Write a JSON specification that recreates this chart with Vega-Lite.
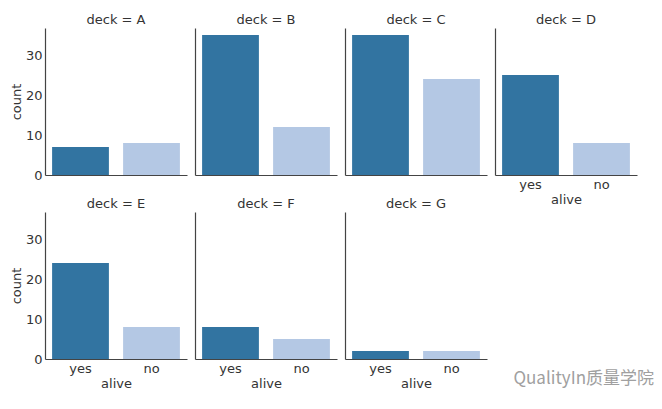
{
  "$schema": "https://vega.github.io/schema/vega-lite/v6.json",
  "background": "white",
  "padding": {"left": 10, "top": 14, "right": 5, "bottom": 5},
  "data": {
    "values": [
      {"deck": "A", "alive": "yes", "count": 7},
      {"deck": "A", "alive": "no", "count": 8},
      {"deck": "B", "alive": "yes", "count": 35},
      {"deck": "B", "alive": "no", "count": 12},
      {"deck": "C", "alive": "yes", "count": 35},
      {"deck": "C", "alive": "no", "count": 24},
      {"deck": "D", "alive": "yes", "count": 25},
      {"deck": "D", "alive": "no", "count": 8},
      {"deck": "E", "alive": "yes", "count": 24},
      {"deck": "E", "alive": "no", "count": 8},
      {"deck": "F", "alive": "yes", "count": 8},
      {"deck": "F", "alive": "no", "count": 5},
      {"deck": "G", "alive": "yes", "count": 2},
      {"deck": "G", "alive": "no", "count": 2}
    ]
  },
  "columns": 4,
  "spacing": {"row": 37, "column": 8},
  "bounds": "flush",
  "title": {
    "text": "QualityIn质量学院",
    "orient": "bottom",
    "anchor": "end",
    "font": "Noto Sans CJK SC",
    "fontSize": 17,
    "fontWeight": "normal",
    "color": "#a0a0a0",
    "offset": -19,
    "dx": 17
  },
  "concat": [
    {
      "width": 142, "height": 147,
      "title": "deck = A",
      "transform": [{"filter": "datum.deck == 'A'"}],
      "mark": "bar",
      "encoding": {
        "x": {"field": "alive", "type": "nominal", "sort": ["yes", "no"], "scale": {"paddingInner": 0.2, "paddingOuter": 0.1}, "axis": {"labels": false, "title": null}},
        "y": {"field": "count", "type": "quantitative", "scale": {"domain": [0, 36.75], "nice": false}, "axis": {"values": [0, 10, 20, 30], "title": "count"}},
        "color": {"field": "alive", "type": "nominal", "scale": {"domain": ["yes", "no"], "range": ["#3274a1", "#b4c8e4"]}, "legend": null}
      }
    },
    {
      "width": 142, "height": 147,
      "title": "deck = B",
      "transform": [{"filter": "datum.deck == 'B'"}],
      "mark": "bar",
      "encoding": {
        "x": {"field": "alive", "type": "nominal", "sort": ["yes", "no"], "scale": {"paddingInner": 0.2, "paddingOuter": 0.1}, "axis": {"labels": false, "title": null}},
        "y": {"field": "count", "type": "quantitative", "scale": {"domain": [0, 36.75], "nice": false}, "axis": {"labels": false, "title": null}},
        "color": {"field": "alive", "type": "nominal", "scale": {"domain": ["yes", "no"], "range": ["#3274a1", "#b4c8e4"]}, "legend": null}
      }
    },
    {
      "width": 142, "height": 147,
      "title": "deck = C",
      "transform": [{"filter": "datum.deck == 'C'"}],
      "mark": "bar",
      "encoding": {
        "x": {"field": "alive", "type": "nominal", "sort": ["yes", "no"], "scale": {"paddingInner": 0.2, "paddingOuter": 0.1}, "axis": {"labels": false, "title": null}},
        "y": {"field": "count", "type": "quantitative", "scale": {"domain": [0, 36.75], "nice": false}, "axis": {"labels": false, "title": null}},
        "color": {"field": "alive", "type": "nominal", "scale": {"domain": ["yes", "no"], "range": ["#3274a1", "#b4c8e4"]}, "legend": null}
      }
    },
    {
      "width": 142, "height": 147,
      "title": "deck = D",
      "transform": [{"filter": "datum.deck == 'D'"}],
      "mark": "bar",
      "encoding": {
        "x": {"field": "alive", "type": "nominal", "sort": ["yes", "no"], "scale": {"paddingInner": 0.2, "paddingOuter": 0.1}, "axis": {"title": "alive"}},
        "y": {"field": "count", "type": "quantitative", "scale": {"domain": [0, 36.75], "nice": false}, "axis": {"labels": false, "title": null}},
        "color": {"field": "alive", "type": "nominal", "scale": {"domain": ["yes", "no"], "range": ["#3274a1", "#b4c8e4"]}, "legend": null}
      }
    },
    {
      "width": 142, "height": 147,
      "title": "deck = E",
      "transform": [{"filter": "datum.deck == 'E'"}],
      "mark": "bar",
      "encoding": {
        "x": {"field": "alive", "type": "nominal", "sort": ["yes", "no"], "scale": {"paddingInner": 0.2, "paddingOuter": 0.1}, "axis": {"title": "alive"}},
        "y": {"field": "count", "type": "quantitative", "scale": {"domain": [0, 36.75], "nice": false}, "axis": {"values": [0, 10, 20, 30], "title": "count"}},
        "color": {"field": "alive", "type": "nominal", "scale": {"domain": ["yes", "no"], "range": ["#3274a1", "#b4c8e4"]}, "legend": null}
      }
    },
    {
      "width": 142, "height": 147,
      "title": "deck = F",
      "transform": [{"filter": "datum.deck == 'F'"}],
      "mark": "bar",
      "encoding": {
        "x": {"field": "alive", "type": "nominal", "sort": ["yes", "no"], "scale": {"paddingInner": 0.2, "paddingOuter": 0.1}, "axis": {"title": "alive"}},
        "y": {"field": "count", "type": "quantitative", "scale": {"domain": [0, 36.75], "nice": false}, "axis": {"labels": false, "title": null}},
        "color": {"field": "alive", "type": "nominal", "scale": {"domain": ["yes", "no"], "range": ["#3274a1", "#b4c8e4"]}, "legend": null}
      }
    },
    {
      "width": 142, "height": 147,
      "title": "deck = G",
      "transform": [{"filter": "datum.deck == 'G'"}],
      "mark": "bar",
      "encoding": {
        "x": {"field": "alive", "type": "nominal", "sort": ["yes", "no"], "scale": {"paddingInner": 0.2, "paddingOuter": 0.1}, "axis": {"title": "alive"}},
        "y": {"field": "count", "type": "quantitative", "scale": {"domain": [0, 36.75], "nice": false}, "axis": {"labels": false, "title": null}},
        "color": {"field": "alive", "type": "nominal", "scale": {"domain": ["yes", "no"], "range": ["#3274a1", "#b4c8e4"]}, "legend": null}
      }
    }
  ],
  "resolve": {"scale": {"x": "independent", "y": "independent", "color": "shared"}},
  "config": {
    "view": {"stroke": null},
    "font": "DejaVu Sans",
    "title": {"fontSize": 13, "fontWeight": "normal", "color": "#333333", "offset": 1, "font": "DejaVu Sans"},
    "axis": {
      "grid": false,
      "ticks": false,
      "domainColor": "#444444",
      "domainWidth": 1.2,
      "labelFont": "DejaVu Sans",
      "labelFontSize": 13,
      "labelColor": "#333333",
      "labelPadding": 3,
      "titleFont": "DejaVu Sans",
      "titleFontSize": 13,
      "titleFontWeight": "normal",
      "titleColor": "#333333",
      "titlePadding": 2
    },
    "axisX": {"labelAngle": 0, "domainColor": "#444444"}
  }
}
